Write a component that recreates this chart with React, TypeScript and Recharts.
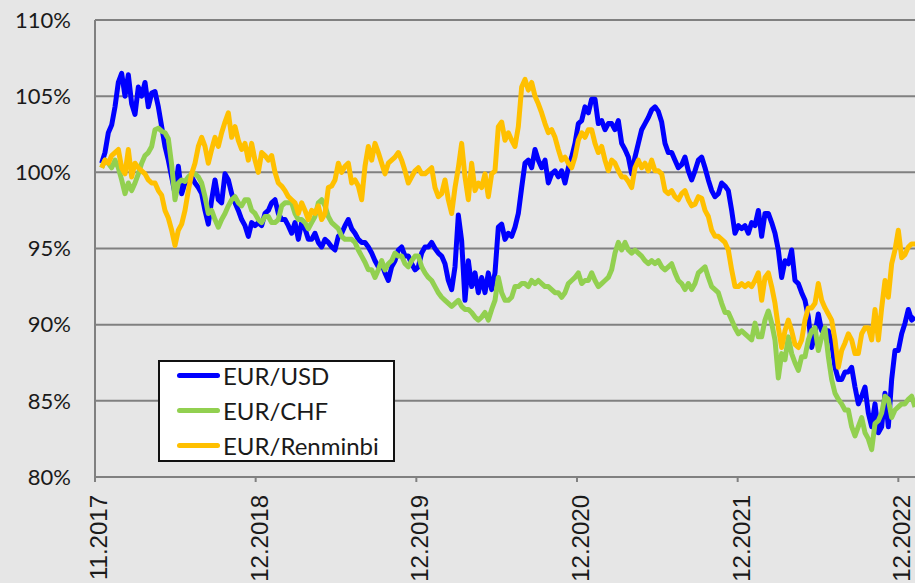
import { CartesianGrid, Legend, Line, LineChart, XAxis, YAxis } from "recharts";

// EUR exchange rates, indexed to 100% at 11.2017 (one point ≈ every 5 trading days)
const eurUsd = [
  100.6, 101.3, 102.6, 103.1, 104.3, 105.9, 106.5, 105.0, 106.4, 104.5, 103.8, 105.6, 105.0, 105.9, 104.3, 105.2, 105.3, 104.3,
  103.0, 101.7, 100.8, 99.7, 98.6, 100.4, 98.6, 99.3, 99.5, 99.7, 99.3, 99.0, 98.6, 97.5, 96.6, 98.2, 99.5, 98.2, 98.0, 99.9, 99.5,
  98.6, 98.0, 97.5, 96.9, 96.5, 95.8, 96.7, 96.5, 96.7, 96.5, 97.3, 97.5, 98.0, 98.2, 97.3, 96.9, 96.9, 96.5, 96.0, 96.7,
  95.6, 96.7, 96.3, 95.6, 95.6, 96.0, 95.4, 95.1, 95.6, 95.4, 95.1, 94.9, 95.8, 96.0, 96.5, 96.9, 96.3, 96.0, 95.6, 95.4, 95.4, 95.1,
  94.7, 94.2, 93.8, 94.0, 93.4, 92.9, 93.8, 94.2, 94.9, 95.1, 94.5, 94.5, 94.0, 93.6, 93.8, 94.7, 95.1, 95.1, 95.4, 95.0,
  94.7, 94.5, 94.0, 92.9, 92.3, 93.8, 97.2, 95.5, 91.6, 94.2, 92.5, 93.4, 92.1, 93.1, 92.1, 93.4, 92.3, 93.4, 96.4, 96.6, 95.6, 96.0,
  95.8, 96.4, 97.3, 99.0, 100.6, 100.8, 100.3, 101.5, 100.8, 100.3, 100.8, 99.3, 99.9, 100.1, 99.7, 100.1, 99.3, 100.3, 101.0, 101.9,
  103.2, 103.4, 104.3, 103.9, 104.8, 104.8, 103.2, 103.4, 102.8, 103.2, 103.2, 102.8, 103.4, 101.9, 101.5, 101.0, 99.9, 101.0, 101.9, 102.8, 103.2, 103.6,
  104.1, 104.3, 104.0, 103.3, 101.9, 101.3, 101.3, 100.8, 100.3, 100.5, 101.0, 100.1, 99.5, 100.1, 100.8, 101.0, 100.3, 99.5, 98.8, 98.4,
  98.6, 99.3, 99.1, 98.8, 97.5, 96.0, 96.5, 96.3, 96.5, 96.0, 96.7, 96.5, 97.5, 95.8, 97.3, 97.3, 96.7, 96.0, 94.9, 93.1, 94.2, 94.0, 94.9, 92.9,
  92.7, 92.1, 91.6, 90.5, 88.5, 89.4, 90.7, 89.6, 89.6, 89.6, 88.8, 87.2, 86.4, 86.4, 86.9, 86.9, 87.2, 85.9, 84.8, 85.3,
  85.9, 84.2, 83.3, 84.8, 82.9, 83.3, 85.5, 83.3, 86.4, 88.3, 88.3, 89.4, 90.1, 91.0, 90.3, 90.5,
];

const eurChf = [
  100.3, 100.8, 100.6, 100.3, 100.8, 100.3, 99.5, 98.6, 99.3, 98.8, 99.3, 99.9, 100.6, 101.1, 101.3, 101.7, 102.8, 102.9,
  102.7, 102.6, 102.2, 100.5, 98.2, 99.3, 99.5, 99.4, 99.7, 99.9, 99.9, 99.7, 99.3, 98.4, 97.3, 97.5, 96.9, 96.4, 96.9, 97.3, 97.8,
  98.2, 98.4, 98.0, 97.8, 98.2, 98.2, 97.5, 97.3, 96.9, 96.7, 97.1, 97.1, 96.7, 96.7, 96.9, 97.8, 98.0, 98.0, 98.0, 97.3,
  96.9, 96.9, 96.7, 96.3, 96.7, 97.1, 98.0, 98.2, 97.8, 97.1, 96.7, 96.5, 96.3, 95.8, 95.6, 95.6, 95.6, 95.4, 94.9, 94.5, 94.1, 93.6,
  93.6, 93.1, 93.6, 94.2, 93.6, 94.0, 94.2, 94.7, 94.5, 94.5, 94.0, 93.8, 94.2, 94.5, 94.5, 93.8, 93.4, 93.1, 92.9, 92.5,
  92.1, 91.8, 91.6, 91.4, 91.2, 91.4, 91.6, 91.2, 91.0, 91.0, 90.8, 90.5, 90.3, 90.5, 90.8, 90.3, 91.0, 91.6, 93.1, 92.1, 91.6, 91.6,
  91.8, 92.5, 92.5, 92.7, 92.7, 92.5, 92.9, 92.7, 92.9, 92.7, 92.5, 92.5, 92.3, 92.1, 92.1, 91.8, 92.1, 92.7, 92.9, 93.1,
  93.4, 92.7, 92.9, 92.9, 93.4, 92.9, 92.5, 92.7, 92.9, 93.1, 93.6, 94.7, 95.4, 94.9, 95.4, 94.9, 94.7, 94.9, 94.7, 94.5, 94.2, 94.0,
  94.2, 94.0, 94.2, 93.8, 93.6, 93.8, 94.0, 93.4, 92.9, 92.7, 92.3, 92.7, 92.3, 92.7, 93.4, 93.6, 93.8, 93.1, 92.5, 92.3,
  92.1, 91.4, 90.8, 90.8, 90.3, 89.8, 89.4, 89.6, 89.4, 89.2, 89.0, 90.1, 89.2, 89.2, 90.3, 90.9, 90.1, 89.0, 86.5, 88.1, 87.7, 89.2, 88.1, 87.5,
  87.0, 87.9, 87.9, 89.0, 89.6, 89.8, 88.3, 89.2, 89.8, 87.9, 86.4, 85.5, 85.1, 84.8, 84.4, 84.4, 83.3, 82.7, 83.3, 83.9,
  82.9, 82.5, 81.8, 83.5, 83.7, 84.2, 85.3, 85.1, 83.9, 84.4, 84.6, 84.8, 84.8, 85.1, 85.3, 84.6,
];

const eurCny = [
  100.3, 100.8, 100.6, 101.1, 101.3, 101.5, 100.3, 99.9, 101.5, 99.7, 100.6, 100.3, 100.1, 99.9, 99.5, 99.3, 99.3, 98.8,
  98.5, 97.5, 97.0, 96.2, 95.2, 96.2, 96.6, 97.5, 98.8, 99.9, 100.6, 101.7, 102.3, 101.7, 100.6, 101.5, 102.3, 101.7, 102.6, 103.3, 103.9,
  102.3, 103.0, 102.1, 101.5, 101.9, 100.8, 101.9, 100.8, 100.0, 101.3, 101.1, 100.8, 101.1, 100.0, 99.3, 99.1, 98.8, 98.4, 98.2, 98.0,
  97.3, 98.0, 97.5, 96.9, 97.5, 97.3, 97.8, 96.9, 97.3, 99.0, 99.1, 99.5, 100.6, 100.0, 100.4, 100.6, 99.3, 99.5, 99.1, 98.2, 100.4, 101.7,
  100.8, 101.9, 101.3, 100.6, 99.9, 100.6, 100.8, 101.0, 101.3, 100.8, 100.1, 99.3, 99.7, 100.1, 100.3, 99.9, 99.9, 100.1, 100.3, 99.0,
  98.4, 98.6, 99.5, 98.2, 97.3, 99.0, 100.3, 101.9, 99.7, 98.2, 100.6, 98.8, 99.3, 99.0, 99.9, 98.4, 99.9, 100.1, 103.0, 103.3, 102.1, 102.6,
  102.1, 101.7, 103.0, 105.6, 106.1, 105.4, 105.9, 105.0, 104.5, 103.9, 103.2, 102.6, 102.8, 102.3, 101.5, 100.8, 101.0, 100.6, 100.3, 101.0,
  102.1, 102.6, 102.3, 102.8, 102.8, 101.9, 101.3, 101.7, 100.8, 100.1, 100.8, 100.6, 100.1, 99.7, 99.7, 99.4, 99.0, 100.3, 100.8, 100.3, 100.6, 100.1,
  100.8, 100.1, 100.1, 99.9, 98.8, 98.6, 98.8, 98.4, 98.2, 98.6, 98.8, 98.2, 97.8, 97.9, 98.4, 98.3, 97.5, 97.1, 96.2, 95.8,
  95.8, 95.6, 95.4, 94.9, 93.6, 92.5, 92.5, 92.7, 92.5, 92.7, 92.5, 92.9, 93.4, 91.6, 93.1, 93.4, 92.5, 91.4, 89.8, 88.5, 89.6, 90.3, 89.6, 88.7,
  88.5, 89.0, 90.3, 91.1, 91.1, 91.4, 92.7, 91.6, 91.1, 90.7, 90.3, 89.0, 87.2, 88.3, 88.8, 89.4, 89.0, 88.1, 88.1, 89.4,
  89.8, 89.8, 89.0, 91.0, 89.0, 91.1, 92.9, 91.8, 94.0, 94.9, 96.2, 94.4, 94.6, 95.1, 95.3, 95.3,
];

const xTickPos = [-2, 46.2, 94.4, 142.6, 190.8, 239];
const xTickLabels = ["11.2017", "12.2018", "12.2019", "12.2020", "12.2021", "12.2022"];
const yTicks = [80, 85, 90, 95, 100, 105, 110];

const seriesKeys = ["usd", "chf", "cny"];
const seriesNames = ["EUR/USD", "EUR/CHF", "EUR/Renminbi"];
const seriesColors = ["#0000ff", "#92d050", "#ffc000"];

const data = eurUsd.map((v, i) => ({ i, usd: v, chf: eurChf[i], cny: eurCny[i] }));

const XTick = (props: any) => {
  const { x, y, index } = props;
  return (
    <text
      transform={`translate(${x + 12}, ${y + 11}) rotate(-90)`}
      textAnchor="end"
      fontFamily="'Liberation Sans', Arial, sans-serif"
      fontSize={24}
      fill="#1a1a1a"
    >
      {xTickLabels[index]}
    </text>
  );
};

const LegendBox = () => (
  <div
    style={{
      position: "relative",
      width: 237,
      height: 102,
      boxSizing: "border-box",
      border: "2px solid #111",
      background: "#fff",
      fontFamily: "Lato, sans-serif",
      fontSize: 24,
      color: "#1a1a1a",
    }}
  >
    {seriesNames.map((name, k) => (
      <div
        key={name}
        style={{
          position: "absolute",
          left: 17,
          top: -4 + k * 35,
          height: 34,
          display: "flex",
          alignItems: "center",
          whiteSpace: "nowrap",
        }}
      >
        <div style={{ width: 43, height: 5, borderRadius: 3, background: seriesColors[k] }} />
        <span style={{ marginLeft: 3 }}>{name}</span>
      </div>
    ))}
  </div>
);

export default function App() {
  return (
    <div style={{ position: "absolute", left: 0, top: 0, width: 915, height: 583, background: "#e6e6e6" }}>
      <LineChart width={915} height={583} data={data} margin={{ top: 20, right: 0, bottom: 0, left: 0 }}>
        <CartesianGrid horizontal vertical={false} stroke="#808080" strokeWidth={2} />
        <XAxis
          dataKey="i"
          type="number"
          domain={[-2, 244]}
          allowDataOverflow
          ticks={xTickPos}
          interval={0}
          height={106}
          axisLine={{ stroke: "#808080", strokeWidth: 2 }}
          tickLine={{ stroke: "#808080", strokeWidth: 2 }}
          tickSize={5}
          tick={<XTick />}
        />
        <YAxis
          domain={[80, 110]}
          ticks={yTicks}
          interval={0}
          width={95}
          axisLine={{ stroke: "#808080", strokeWidth: 2 }}
          tickLine={false}
          tickSize={0}
          tickMargin={24}
          tickFormatter={(v: number) => `${v}%`}
          tick={{ fill: "#1a1a1a", fontSize: 22, fontFamily: "Lato, sans-serif" }}
        />
        <Legend
          layout="vertical"
          align="center"
          verticalAlign="middle"
          content={<LegendBox />}
          wrapperStyle={{ left: 158, top: 360, width: 237, height: 102 }}
        />
        {seriesKeys.map((key, k) => (
          <Line
            key={key}
            type="linear"
            dataKey={key}
            name={seriesNames[k]}
            stroke={seriesColors[k]}
            strokeWidth={5}
            strokeLinejoin="round"
            dot={false}
            isAnimationActive={false}
          />
        ))}
      </LineChart>
    </div>
  );
}
